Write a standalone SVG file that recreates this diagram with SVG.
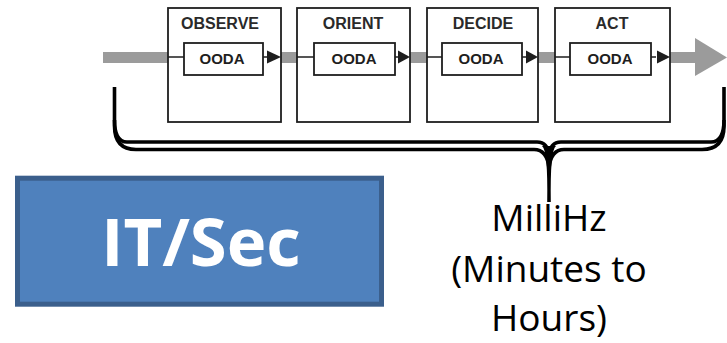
<svg xmlns="http://www.w3.org/2000/svg" width="727" height="343" viewBox="0 0 727 343">
  <style>
    .bar { fill: #9b9b9b; }
    .stage { fill: #ffffff; stroke: #1e1e1e; stroke-width: 1.8; }
    .inner { fill: #ffffff; stroke: #1e1e1e; stroke-width: 1.8; }
    .wire { stroke: #1e1e1e; stroke-width: 1.6; fill: none; }
    .tip { fill: #1e1e1e; }
    .title { font-family: "Liberation Sans", Arial, sans-serif; font-weight: bold; font-size: 16px; fill: #2a2a2a; text-anchor: middle; }
    .ooda { font-family: "Liberation Sans", Arial, sans-serif; font-weight: bold; font-size: 15px; fill: #1e1e1e; text-anchor: middle; }
    .brace { fill: none; stroke: #000000; stroke-width: 3.6; stroke-linecap: butt; }
    .rate { font-family: "Open Sans", "Noto Sans", sans-serif; font-size: 37px; fill: #000000; text-anchor: middle; }
  </style>

  <!-- grey flow bar with its big arrowhead -->
  <g id="flow">
    <rect class="bar" x="103" y="52" width="595" height="11"/>
    <polygon class="bar" points="695,38 727,57.5 695,76"/>
  </g>

  <!-- the four OODA stages -->
  <g id="observe">
    <rect class="stage" x="168" y="8" width="113" height="114"/>
    <text class="title" x="220" y="29">OBSERVE</text>
    <rect class="inner" x="184" y="43" width="79" height="32"/>
    <text class="ooda" x="222" y="64">OODA</text>
  </g>
  <g id="orient">
    <rect class="stage" x="297" y="8" width="113" height="114"/>
    <text class="title" x="353" y="29">ORIENT</text>
    <rect class="inner" x="314" y="43" width="81" height="32"/>
    <text class="ooda" x="354" y="64">OODA</text>
  </g>
  <g id="decide">
    <rect class="stage" x="427" y="8" width="111" height="114"/>
    <text class="title" x="483" y="29">DECIDE</text>
    <rect class="inner" x="442" y="43" width="80" height="32"/>
    <text class="ooda" x="481" y="64">OODA</text>
  </g>
  <g id="act">
    <rect class="stage" x="555" y="8" width="115" height="114"/>
    <text class="title" x="612" y="29">ACT</text>
    <rect class="inner" x="570" y="43" width="81" height="32"/>
    <text class="ooda" x="610" y="64">OODA</text>
  </g>

  <!-- wiring inside each stage -->
  <g id="connectors">
    <path class="wire" d="M168,57 H184 M263,57 H268 M297,57 H314 M395,57 H400 M427,57 H442 M522,57 H527 M555,57 H570 M651,57 H656"/>
    <polygon class="tip" points="267,50.5 281,57 267,63.5"/>
    <polygon class="tip" points="398,50.5 410,57 398,63.5"/>
    <polygon class="tip" points="526,50.5 538,57 526,63.5"/>
    <polygon class="tip" points="657,50.5 670,57 657,63.5"/>
  </g>

  <!-- double-lined curly brace under the loop -->
  <g id="brace">
    <path class="brace" d="M114.5,87 V126 Q114.5,149.5 136,149.5 H534 Q547,149.5 549,168 M549,168 Q551,149.5 564,149.5 H702 Q724,149.5 724,126 V87"/>
    <path class="brace" d="M114.5,120 Q114.5,142 127,142 H537 Q548,142 549,156 M549,156 Q550,142 561,142 H711 Q724,142 724,120"/>
    <path fill="#000000" d="M542,146 Q548,150 547.2,202 H550.8 Q550,150 556,146 Z"/>
  </g>

  <!-- IT/Sec block -->
  <g id="itsec">
    <rect x="17.5" y="178.2" width="364" height="126" fill="#4f81bd" stroke="#3b5f8c" stroke-width="5"/>
    <text x="201" y="266" font-family="'Open Sans', 'Noto Sans', sans-serif" font-weight="bold" font-size="67" fill="#ffffff" text-anchor="middle">IT/Sec</text>
  </g>

  <!-- rate label -->
  <g id="rate">
    <text class="rate" x="549" y="231">MilliHz</text>
    <text class="rate" x="549" y="282">(Minutes to</text>
    <text class="rate" x="549" y="331">Hours)</text>
  </g>
</svg>
